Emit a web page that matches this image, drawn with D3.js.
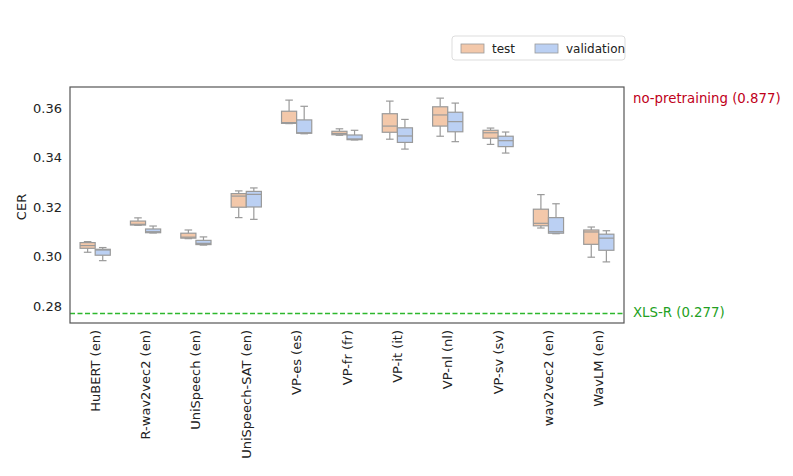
<!DOCTYPE html>
<html>
<head>
<meta charset="utf-8">
<script src="https://cdn.jsdelivr.net/npm/d3@7"></script>
<style>
  body { margin: 0; background: #fff; }
  text { font-family: "DejaVu Sans", sans-serif; }
</style>
</head>
<body>
<div id="chart"></div>
<script>
'use strict';

// model names on the x axis
var models = ['HuBERT (en)', 'R-wav2vec2 (en)', 'UniSpeech (en)', 'UniSpeech-SAT (en)',
    'VP-es (es)', 'VP-fr (fr)', 'VP-it (it)', 'VP-nl (nl)', 'VP-sv (sv)', 'wav2vec2 (en)', 'WavLM (en)'];
var splits = ['test', 'validation'];

// [whisker low, q1, median, q3, whisker high] for each model
var testStats = [
    [0.3017, 0.3033, 0.3044, 0.3056, 0.3060],
    [0.3126, 0.3127, 0.3130, 0.3143, 0.3156],
    [0.3072, 0.3074, 0.3078, 0.3094, 0.3107],
    [0.3157, 0.3199, 0.3244, 0.3254, 0.3265],
    [0.3537, 0.3538, 0.3541, 0.3587, 0.3632],
    [0.3490, 0.3492, 0.3497, 0.3506, 0.3516],
    [0.3474, 0.3502, 0.3527, 0.3577, 0.3628],
    [0.3486, 0.3527, 0.3572, 0.3605, 0.3640],
    [0.3453, 0.3478, 0.3500, 0.3510, 0.3519],
    [0.3115, 0.3124, 0.3134, 0.3191, 0.3250],
    [0.2997, 0.3049, 0.3099, 0.3107, 0.3119]
];
var validationStats = [
    [0.2983, 0.3005, 0.3026, 0.3029, 0.3036],
    [0.3095, 0.3096, 0.3100, 0.3111, 0.3123],
    [0.3046, 0.3048, 0.3053, 0.3065, 0.3079],
    [0.3150, 0.3200, 0.3251, 0.3263, 0.3277],
    [0.3496, 0.3498, 0.3500, 0.3552, 0.3607],
    [0.3471, 0.3472, 0.3475, 0.3491, 0.3510],
    [0.3434, 0.3461, 0.3487, 0.3520, 0.3554],
    [0.3464, 0.3504, 0.3545, 0.3583, 0.3620],
    [0.3418, 0.3444, 0.3468, 0.3486, 0.3503],
    [0.3092, 0.3094, 0.3100, 0.3157, 0.3213],
    [0.2978, 0.3025, 0.3074, 0.3090, 0.3104]
];
var yTicks = [0.28, 0.30, 0.32, 0.34, 0.36];
var xlsr = 0.277;
var noPretraining = 0.877;

var width = 793, height = 476;
var margin = {top: 87, right: 169, bottom: 153, left: 70};
var colors = {test: '#f3c8aa', validation: '#bbd0f3'};
var edge = '#9a9a9a';

var svg = d3.select('#chart').append('svg')
    .attr('width', width)
    .attr('height', height);

var x = d3.scaleBand()
    .domain(models)
    .range([margin.left, width - margin.right]);

var hue = d3.scaleBand()
    .domain(splits)
    .range([x.bandwidth() * 0.2, x.bandwidth() * 0.8]);

var y = d3.scaleLinear()
    .domain([0.2731, 0.3685])
    .range([height - margin.bottom, margin.top]);

// reference line for XLS-R
svg.append('line')
    .attr('x1', margin.left).attr('x2', width - margin.right)
    .attr('y1', Math.round(y(xlsr)) + 0.5).attr('y2', Math.round(y(xlsr)) + 0.5)
    .style('stroke', '#2eb82e')
    .style('stroke-width', 1.3)
    .style('stroke-dasharray', '5,2.5');

var data = [];
models.forEach(function(m, i) {
    data.push({model: m, split: 'test', s: testStats[i]});
    data.push({model: m, split: 'validation', s: validationStats[i]});
});

var boxes = svg.selectAll('g.box')
    .data(data)
    .enter().append('g')
    .attr('class', 'box')
    .attr('transform', function(d) { return 'translate(' + (x(d.model) + hue(d.split)) + ',0)'; });

var bw = hue.bandwidth();

// whiskers
boxes.append('line')
    .attr('x1', bw / 2).attr('x2', bw / 2)
    .attr('y1', function(d) { return y(d.s[0]); })
    .attr('y2', function(d) { return y(d.s[1]); })
    .style('stroke', edge).style('stroke-width', 1.2);
boxes.append('line')
    .attr('x1', bw / 2).attr('x2', bw / 2)
    .attr('y1', function(d) { return y(d.s[3]); })
    .attr('y2', function(d) { return y(d.s[4]); })
    .style('stroke', edge).style('stroke-width', 1.2);

// caps
[0, 4].forEach(function(k) {
    boxes.append('line')
        .attr('x1', bw / 4).attr('x2', bw * 3 / 4)
        .attr('y1', function(d) { return y(d.s[k]); })
        .attr('y2', function(d) { return y(d.s[k]); })
        .style('stroke', edge).style('stroke-width', 1.2);
});

boxes.append('rect')
    .attr('x', 0)
    .attr('width', bw)
    .attr('y', function(d) { return y(d.s[3]); })
    .attr('height', function(d) { return y(d.s[1]) - y(d.s[3]); })
    .style('fill', function(d) { return colors[d.split]; })
    .style('stroke', edge)
    .style('stroke-width', 1.2);

boxes.append('line')
    .attr('x1', 0).attr('x2', bw)
    .attr('y1', function(d) { return y(d.s[2]); })
    .attr('y2', function(d) { return y(d.s[2]); })
    .style('stroke', edge).style('stroke-width', 1.2);

// frame
svg.append('rect')
    .attr('x', margin.left).attr('y', margin.top)
    .attr('width', width - margin.left - margin.right)
    .attr('height', height - margin.top - margin.bottom)
    .style('fill', 'none')
    .style('stroke', '#555')
    .style('stroke-width', 1.2);

// y axis
var yAxis = svg.append('g')
    .attr('transform', 'translate(' + margin.left + ',0)')
    .call(d3.axisLeft(y).tickValues(yTicks).tickFormat(d3.format('.2f')).tickSize(0).tickPadding(8));
yAxis.select('.domain').remove();
yAxis.selectAll('text').style('font-size', '13px').style('fill', '#222');

svg.append('text')
    .attr('transform', 'translate(26,' + y(0.32) + ') rotate(-90)')
    .attr('text-anchor', 'middle')
    .style('font-size', '13px')
    .style('fill', '#222')
    .text('CER');

// x axis
var xAxis = svg.append('g')
    .attr('transform', 'translate(0,' + (height - margin.bottom) + ')')
    .call(d3.axisBottom(x).tickSize(0));
xAxis.select('.domain').remove();
xAxis.selectAll('text')
    .attr('transform', 'rotate(-90)')
    .attr('text-anchor', 'end')
    .attr('x', -7)
    .attr('y', 0)
    .attr('dy', '0.35em')
    .style('font-size', '13px')
    .style('fill', '#222');

// annotations at the right
svg.append('text')
    .attr('x', width - margin.right + 9)
    .attr('y', margin.top + 11)
    .attr('dy', '0.35em')
    .style('font-size', '13.3px')
    .style('fill', '#c0001a')
    .text('no-pretraining (' + noPretraining + ')');

svg.append('text')
    .attr('x', width - margin.right + 9)
    .attr('y', y(xlsr) - 1)
    .attr('dy', '0.35em')
    .style('font-size', '13.3px')
    .style('fill', '#22a022')
    .text('XLS-R (' + xlsr + ')');

// legend
var legend = svg.append('g').attr('transform', 'translate(452,36)');
legend.append('rect')
    .attr('width', 173).attr('height', 24).attr('rx', 3)
    .style('fill', '#fff').style('stroke', '#ddd');
var items = legend.selectAll('g.item')
    .data(splits)
    .enter().append('g')
    .attr('class', 'item')
    .attr('transform', function(d, i) { return 'translate(' + (9 + i * 74) + ',0)'; });
items.append('rect')
    .attr('y', 8).attr('width', 23).attr('height', 9)
    .style('fill', function(d) { return colors[d]; })
    .style('stroke', edge).style('stroke-width', 0.8);
items.append('text')
    .attr('x', 31).attr('y', 12.5).attr('dy', '0.35em')
    .style('font-size', '12px').style('fill', '#222')
    .text(function(d) { return d; });
</script>
</body>
</html>
